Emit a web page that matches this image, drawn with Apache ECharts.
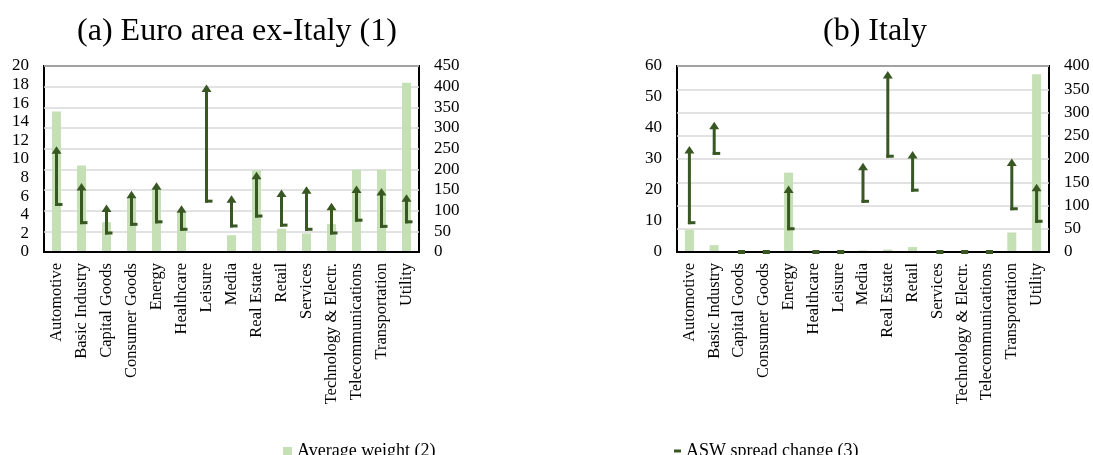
<!DOCTYPE html>
<html>
<head>
<meta charset="utf-8">
<script src="https://cdn.jsdelivr.net/npm/echarts@6/dist/echarts.min.js"></script>
<style>
  html, body { margin: 0; padding: 0; background: #fff; }
  #chart { width: 1093px; height: 455px; }
</style>
</head>
<body>
<div id="chart"></div>
<script>
var categories = ['Automotive', 'Basic Industry', 'Capital Goods', 'Consumer Goods', 'Energy', 'Healthcare',
    'Leisure', 'Media', 'Real Estate', 'Retail', 'Services', 'Technology & Electr.',
    'Telecommunications', 'Transportation', 'Utility'];

// (a) Euro area ex-Italy
var weightEA = [15.1, 9.3, 3.2, 5.9, 6.8, 4.2, 0, 1.8, 8.8, 2.5, 2.0, 3.0, 8.85, 8.85, 18.2];
var spreadFromEA = [115, 71, 46, 67, 73, 55, 123, 63, 87, 65, 55, 46, 77, 62, 73];
var spreadToEA = [256, 167, 115, 148, 169, 113, 405, 137, 194, 151, 159, 119, 161, 155, 140];

// (b) Italy
var weightIT = [7.2, 2.2, 0, 0, 25.6, 0, 0, 0.5, 0.8, 1.6, 0, 0, 0, 6.3, 57.3];
var spreadFromIT = [63, 212, 0, 0, 50, 0, 0, 109, 206, 133, 0, 0, 0, 93, 66];
var spreadToIT = [228, 280, 0, 0, 143, 0, 0, 192, 389, 217, 0, 0, 0, 201, 147];

var font = 'Liberation Serif';
var barColor = '#c5e0b4';
var arrowColor = '#385723';

var chart = echarts.init(document.getElementById('chart'));

// vertical arrow from start to end, with a small hook at the start
function renderArrow(params, api) {
    var idx = api.value(0);
    var s = api.value(1);
    var e = api.value(2);
    var p0 = api.coord([idx, s]);
    var p1 = api.coord([idx, e]);
    var x = p0[0];
    var kids = [];
    if (e > s) {
        kids.push({
            type: 'line',
            shape: { x1: x, y1: p0[1] + 1.5, x2: x, y2: p1[1] + 6 },
            style: { stroke: arrowColor, lineWidth: 3 }
        });
        kids.push({
            type: 'polygon',
            shape: { points: [[x, p1[1]], [x - 5, p1[1] + 7.5], [x + 5, p1[1] + 7.5]] },
            style: { fill: arrowColor }
        });
        kids.push({
            type: 'rect',
            shape: { x: x - 1.5, y: p0[1] - 1.5, width: 7.5, height: 3 },
            style: { fill: arrowColor }
        });
    } else {
        // no change: just a small dash on the base line
        kids.push({
            type: 'rect',
            shape: { x: x - 1, y: p0[1] - 2, width: 7, height: 4 },
            style: { fill: arrowColor }
        });
    }
    return { type: 'group', children: kids };
}

function arrowData(from, to) {
    return categories.map(function (c, i) { return [i, from[i], to[i]]; });
}

function barData(w) {
    return w.map(function (v) { return v === 0 ? '-' : v; });
}

function xAxisFor(gi) {
    return {
        type: 'category',
        gridIndex: gi,
        data: categories,
        z: 3,
        axisTick: { show: false },
        axisLine: { lineStyle: { color: '#000', width: 2 } },
        axisLabel: { rotate: 90, margin: 11, fontSize: 16.5, fontFamily: font, color: '#000', interval: 0 }
    };
}

function yAxisFor(gi, max, interval, pos, grid) {
    return {
        type: 'value',
        gridIndex: gi,
        position: pos,
        min: 0,
        max: max,
        interval: interval,
        axisLine: { show: false },
        axisTick: { show: false },
        axisLabel: { margin: 15, fontSize: 17, fontFamily: font, color: '#000' },
        splitLine: { show: grid, lineStyle: { color: '#d9d9d9', width: 1.5 } }
    };
}

var option = {
    animation: false,
    backgroundColor: '#fff',
    title: [
        { text: '(a) Euro area ex-Italy (1)', left: 232, top: 11, textAlign: 'center',
          textStyle: { fontSize: 32, fontWeight: 'normal', fontFamily: font, color: '#000' } },
        { text: '(b) Italy', left: 870, top: 11, textAlign: 'center',
          textStyle: { fontSize: 32, fontWeight: 'normal', fontFamily: font, color: '#000' } }
    ],
    legend: [
        { left: 278, top: 437, itemWidth: 9, itemHeight: 8,
          data: [{ name: 'Average weight (2)', icon: 'rect', itemStyle: { color: barColor } }],
          textStyle: { fontSize: 18, fontFamily: font, color: '#000' } },
        { left: 669, top: 437, itemWidth: 7, itemHeight: 3,
          data: [{ name: 'ASW spread change (3)', icon: 'rect', itemStyle: { color: arrowColor } }],
          textStyle: { fontSize: 18, fontFamily: font, color: '#000' } }
    ],
    grid: [
        { left: 44, top: 66, width: 375, height: 186, show: true, borderColor: '#000', borderWidth: 2 },
        { left: 677, top: 66, width: 372, height: 186, show: true, borderColor: '#000', borderWidth: 2 }
    ],
    xAxis: [xAxisFor(0), xAxisFor(1)],
    yAxis: [
        yAxisFor(0, 20, 2, 'left', false),
        yAxisFor(0, 450, 50, 'right', true),
        yAxisFor(1, 60, 10, 'left', false),
        yAxisFor(1, 400, 50, 'right', true)
    ],
    series: [
        { name: 'Average weight (2)', type: 'bar', xAxisIndex: 0, yAxisIndex: 0, barWidth: 9, z: 2,
          itemStyle: { color: barColor }, data: barData(weightEA) },
        { name: 'ASW spread change (3)', type: 'custom', xAxisIndex: 0, yAxisIndex: 1, z: 20, clip: false,
          itemStyle: { color: arrowColor }, renderItem: renderArrow,
          encode: { x: 0, y: [1, 2] }, data: arrowData(spreadFromEA, spreadToEA) },
        { name: 'Average weight (2)', type: 'bar', xAxisIndex: 1, yAxisIndex: 2, barWidth: 9, z: 2,
          itemStyle: { color: barColor }, data: barData(weightIT) },
        { name: 'ASW spread change (3)', type: 'custom', xAxisIndex: 1, yAxisIndex: 3, z: 20, clip: false,
          itemStyle: { color: arrowColor }, renderItem: renderArrow,
          encode: { x: 0, y: [1, 2] }, data: arrowData(spreadFromIT, spreadToIT) }
    ]
};

chart.setOption(option);
window.addEventListener('resize', chart.resize);
</script>
</body>
</html>
